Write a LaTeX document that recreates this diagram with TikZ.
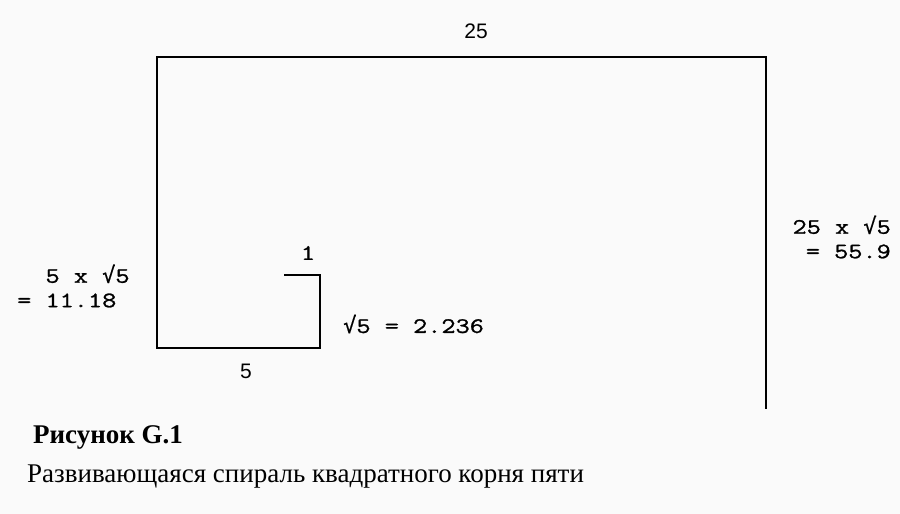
\documentclass[tikz,border=0pt]{standalone}
\usepackage{fontspec}
\setmainfont{Liberation Serif}
\newfontfamily\monof[FakeStretch=1.25,FakeBold=1.2]{Latin Modern Mono}
\newfontfamily\symf[FakeStretch=1.0,FakeBold=0.4]{DejaVu Sans Mono}
\newfontfamily\sansf{Liberation Sans}
\newcommand\rootglyph{{\symf √}}
\definecolor{bgc}{RGB}{250,250,250}
\begin{document}
\begin{tikzpicture}[x=1pt,y=-1pt,
  spiral/.style={line width=1.8pt, line join=miter, line cap=rect},
  mlabel/.style={font=\monof\fontsize{22}{24.5}\selectfont, inner sep=0pt, align=left},
  slabel/.style={font=\sansf\fontsize{21}{25}\selectfont, inner sep=0pt},
  captit/.style={font=\bfseries\fontsize{27}{32}\selectfont, inner sep=0pt, anchor=base west},
  captxt/.style={font=\fontsize{27}{32}\selectfont, inner sep=0pt, anchor=base west}]
\fill[bgc] (0,0) rectangle (900,514);
\useasboundingbox (0,0) rectangle (900,514);
\coordinate (a) at (285,275);
\coordinate (b) at (320,275);
\coordinate (c) at (320,348);
\coordinate (d) at (157,348);
\coordinate (e) at (157,57);
\coordinate (f) at (766,57);
\coordinate (g) at (766,408);
\draw[spiral] (a) -- (b) -- (c) -- (d) -- (e) -- (f) -- (g);
\node[mlabel] (l1) at (308,253) {1};
\node[mlabel, anchor=west] (l2) at (343,324) {\rootglyph5 = 2.236};
\node[slabel] (l3) at (246,371) {5};
\node[mlabel, anchor=west, align=left] (l4) at (17,286) {\phantom{= }5 x \rootglyph5\\= 11.18};
\node[slabel] (l5) at (476,31) {25};
\node[mlabel, anchor=east, align=right] (l6) at (891,237) {25 x \rootglyph5\\= 55.9};
\node[captit] (t1) at (33,443) {Рисунок G.1};
\node[captxt] (t2) at (27,482) {Развивающаяся спираль квадратного корня пяти};
\end{tikzpicture}
\end{document}
